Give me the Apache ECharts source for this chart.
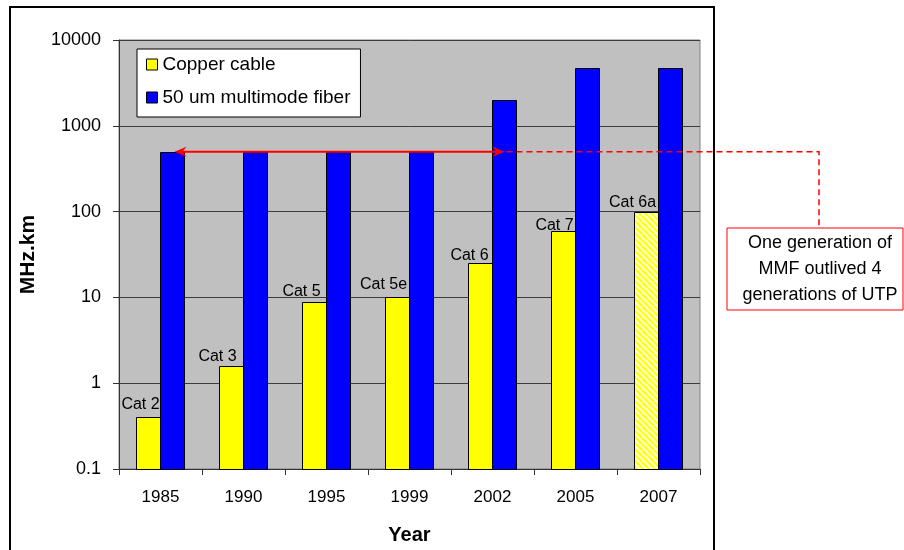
<!DOCTYPE html>
<html>
<head>
<meta charset="utf-8">
<script src="https://cdn.jsdelivr.net/npm/echarts@6/dist/echarts.min.js"></script>
<style>
html,body{margin:0;padding:0;background:#fff;}
#chart{width:904px;height:550px;}
</style>
</head>
<body>
<div id="chart"></div>
<script>
// ---- data ----
var years = ['1985', '1990', '1995', '1999', '2002', '2005', '2007'];
var copperNames = ['Cat 2', 'Cat 3', 'Cat 5', 'Cat 5e', 'Cat 6', 'Cat 7', 'Cat 6a'];
var copperValues = [0.4, 1.57, 8.8, 10, 25, 60, 100];
var fiberValues = [500, 500, 500, 500, 2000, 4700, 4700];
var yTicks = [0.1, 1, 10, 100, 1000, 10000];
var seriesNames = ['Copper cable', '50 um multimode fiber'];
var noteLines = ['One generation of', 'MMF outlived 4', 'generations of UTP'];
var arrowValue = 500;           // fiber bandwidth held across generations
var arrowFrom = 0, arrowTo = 4; // category indices (1985 -> 2002)
var plannedIndex = 6;           // Cat 6a (hatched)

// ---- style-only tweaks (label nudges, pixels) ----
var labelNudge = [[-8,-4],[-14,-1],[-13,-2],[-14,-4],[-11,1],[-9,4],[-14,0]];
var BAR_W = 24;
var FONT = 'Liberation Sans';

function hatch() {
  var c = document.createElement('canvas');
  c.width = 6; c.height = 6;
  var g = c.getContext('2d');
  g.fillStyle = '#ffffc8';
  g.fillRect(0, 0, 6, 6);
  g.strokeStyle = '#ffff00';
  g.lineWidth = 2;
  for (var k = -6; k <= 12; k += 6) {
    g.beginPath();
    g.moveTo(k, 0);
    g.lineTo(k + 6, 6);
    g.stroke();
  }
  return c;
}
var hatchCanvas = hatch();

var copperData = copperValues.map(function (v, i) { return [i, v]; });
var fiberData = fiberValues.map(function (v, i) { return [i, v]; });

function makeRender(side, color, withLabel) {
  return function (params, api) {
    var i = api.value(0);
    var v = api.value(1);
    var top = api.coord([i, v]);
    var base = api.coord([i, yTicks[0]]);
    var x = side < 0 ? top[0] - BAR_W : top[0];
    var fill = color;
    if (withLabel && i === plannedIndex) {
      fill = { image: hatchCanvas, repeat: 'repeat' };
    }
    var children = [{
      type: 'rect',
      shape: { x: Math.round(x) - 0.5, y: Math.round(top[1]) + 0.5, width: BAR_W, height: Math.round(base[1]) - Math.round(top[1]) },
      style: { fill: fill, stroke: '#000', lineWidth: 1 }
    }];
    if (withLabel) {
      var nd = labelNudge[i];
      children.push({
        type: 'text',
        x: x + BAR_W / 2 + nd[0],
        y: top[1] - 1 + nd[1],
        style: { text: copperNames[i], font: '16px "' + FONT + '"', fill: '#000',
                 align: 'center', verticalAlign: 'bottom' }
      });
    }
    return { type: 'group', children: children };
  };
}

var chart = echarts.init(document.getElementById('chart'), null, { renderer: 'canvas' });

var option = {
  animation: false,
  backgroundColor: '#ffffff',
  textStyle: { fontFamily: FONT },
  grid: {
    left: 119, right: 204, top: 40, bottom: 80,
    show: true, backgroundColor: '#c0c0c0', borderColor: '#808080', borderWidth: 1
  },
  legend: {
    orient: 'vertical',
    left: 137, top: 49,
    backgroundColor: '#ffffff',
    borderColor: '#000000', borderWidth: 1, borderRadius: 0,
    padding: [6, 10, 10, 9],
    itemGap: 14,
    itemWidth: 11, itemHeight: 11,
    icon: 'rect',
    itemStyle: { borderColor: '#000', borderWidth: 1 },
    textStyle: { fontFamily: FONT, fontSize: 19, color: '#000', lineHeight: 18 },
    data: seriesNames
  },
  xAxis: {
    type: 'category',
    data: years,
    name: 'Year',
    nameLocation: 'middle',
    nameGap: 56,
    nameTextStyle: { fontFamily: FONT, fontSize: 20, fontWeight: 'bold', color: '#000' },
    axisLine: { lineStyle: { color: '#333', width: 1 } },
    axisTick: { show: true, length: 6, lineStyle: { color: '#333' } },
    axisLabel: { fontFamily: FONT, fontSize: 17, color: '#000', margin: 20 },
    splitLine: { show: false }
  },
  yAxis: {
    type: 'log',
    logBase: 10,
    min: yTicks[0],
    max: yTicks[yTicks.length - 1],
    name: 'MHz.km',
    nameLocation: 'middle',
    nameGap: 80,
    nameRotate: 90,
    nameTextStyle: { fontFamily: FONT, fontSize: 21, fontWeight: 'bold', color: '#000' },
    axisLine: { show: true, lineStyle: { color: '#333', width: 1 } },
    axisTick: { show: true, length: 6, lineStyle: { color: '#333' } },
    axisLabel: {
      fontFamily: FONT, fontSize: 18, color: '#000', margin: 18,
      formatter: function (v) { return String(Number(Number(v).toPrecision(6))); }
    },
    splitLine: { show: true, lineStyle: { color: '#3c3c3c', width: 1 } }
  },
  series: [
    {
      name: seriesNames[0],
      type: 'custom',
      itemStyle: { color: '#ffff00', borderColor: '#000', borderWidth: 1 },
      encode: { x: 0, y: 1 },
      renderItem: makeRender(-1, '#ffff00', true),
      data: copperData,
      z: 3
    },
    {
      name: seriesNames[1],
      type: 'custom',
      itemStyle: { color: '#0000ff', borderColor: '#000', borderWidth: 1 },
      encode: { x: 0, y: 1 },
      renderItem: makeRender(1, '#0000ff', false),
      data: fiberData,
      z: 3
    }
  ]
};
chart.setOption(option);

// ---- annotation: double arrow + dashed leader + note box ----
var yPix = chart.convertToPixel({ yAxisIndex: 0 }, arrowValue);
var xL = chart.convertToPixel({ xAxisIndex: 0 }, years[arrowFrom]) + 14;
var xR = chart.convertToPixel({ xAxisIndex: 0 }, years[arrowTo]) + 12;
var red = '#ff0000';
var boxX = 727, boxY = 228, boxW = 176, boxH = 82;
var leaderX = 819;

function head(tipX, dir) {
  var L = 12, H = 5, N = 4;
  return [
    [tipX, yPix],
    [tipX - dir * L, yPix - H],
    [tipX - dir * (L - N), yPix],
    [tipX - dir * L, yPix + H]
  ];
}

chart.setOption({
  graphic: [
    { type: 'rect', shape: { x: 10, y: 7, width: 704, height: 560 },
      style: { fill: 'none', stroke: '#000', lineWidth: 2 }, silent: true, z: 100 },
    { type: 'line', shape: { x1: xL + 6, y1: yPix, x2: xR - 6, y2: yPix },
      style: { stroke: red, lineWidth: 2 }, z: 110 },
    { type: 'polygon', shape: { points: head(xL, -1) }, style: { fill: red }, z: 111 },
    { type: 'polygon', shape: { points: head(xR, 1) }, style: { fill: red }, z: 111 },
    { type: 'polyline', shape: { points: [[xR + 2, yPix], [leaderX, yPix], [leaderX, boxY]] },
      style: { stroke: red, lineWidth: 1.5, lineDash: [6, 4], fill: 'none' }, z: 110 },
    { type: 'rect', shape: { x: boxX, y: boxY, width: boxW, height: boxH },
      style: { fill: '#fff', stroke: red, lineWidth: 1 }, z: 112 },
    { type: 'text', x: boxX + boxW / 2 + 5, y: boxY + boxH / 2,
      style: { text: noteLines.join('\n'), font: '18px "' + FONT + '"', fill: '#000',
               align: 'center', verticalAlign: 'middle', lineHeight: 26 }, z: 113 }
  ]
});
</script>
</body>
</html>
